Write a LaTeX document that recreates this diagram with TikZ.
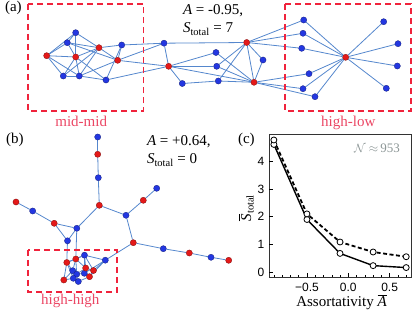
\documentclass[tikz,border=0pt]{standalone}
\usepackage{amsmath}
\usepackage{fontspec}
\setmainfont{Liberation Serif}
\newfontfamily\ticksans{Liberation Sans}
\usepackage{tikz}
\usetikzlibrary{backgrounds}
\definecolor{netblue}{RGB}{35,55,225}
\definecolor{netred}{RGB}{228,25,25}
\definecolor{linkblue}{RGB}{85,135,205}
\definecolor{boxred}{RGB}{240,35,60}
\definecolor{labelred}{RGB}{235,70,100}
\definecolor{notegray}{RGB}{140,150,150}

\begin{document}
\begin{tikzpicture}[x=1pt,y=-1pt,
  font=\fontsize{15}{17}\selectfont,
  bnode/.style={circle,fill=netblue,draw=netblue!55!black,line width=0.3pt,inner sep=0pt,minimum size=6.2pt},
  rnode/.style={bnode,fill=netred,draw=netred!55!black},
  link/.style={linkblue,line width=0.8pt},
  hubbox/.style={draw=boxred,line width=1.8pt,dash pattern=on 6pt off 4pt},
  boxlabel/.style={text=labelred,anchor=base},
  ticklabel/.style={font=\ticksans\fontsize{12}{14}\selectfont},
  datamark/.style={circle,draw=black,fill=white,line width=0.8pt,inner sep=0pt,minimum size=6pt}
]
\useasboundingbox (0,0) rectangle (415,312);

% (a)
\foreach \n/\px/\py/\s in {1/46.7/55.7/rnode, 2/75.7/32.7/bnode, 3/67.3/42.7/bnode, 4/75.7/57/rnode,
    5/99/47.7/rnode, 6/121.7/45/bnode, 7/117.7/60.3/rnode, 8/63.3/76/bnode, 9/79.3/76/bnode,
    10/106/80/bnode, 11/164/43.2/bnode, 12/168.6/66.3/rnode, 13/182.3/83.5/bnode, 14/216/52.5/bnode,
    15/216.7/66.3/bnode, 16/218.3/81/bnode, 17/246.7/42.5/rnode, 18/263/60/bnode, 19/254/82.3/rnode,
    20/303.7/20/bnode, 21/303/33.3/bnode, 22/301.7/48.3/bnode, 23/345.7/57.3/rnode, 24/383.7/21.7/bnode,
    25/398/43.7/bnode, 26/397.3/66/bnode, 27/386.3/88.3/bnode, 28/309/73.7/bnode, 29/303/88.7/bnode,
    30/315/96.7/bnode}
  \node[\s] (a\n) at (\px,\py) {};
\begin{scope}[on background layer]
\foreach \u/\v in {a1/a2, a1/a3, a1/a4, a1/a8, a1/a9, a2/a3, a2/a4, a2/a5, a3/a4, a3/a5, a3/a7,
    a4/a5, a4/a8, a4/a9, a4/a10, a5/a6, a5/a7, a5/a8, a5/a9, a6/a7, a6/a10, a6/a11, a7/a9, a7/a11,
    a7/a12, a8/a9, a9/a10, a10/a12, a11/a12, a11/a17, a12/a13, a12/a14, a12/a15, a12/a19, a13/a16,
    a14/a19, a15/a17, a15/a19, a16/a17, a16/a19, a17/a18, a17/a19, a18/a19, a17/a20, a17/a21,
    a17/a22, a19/a28, a19/a29, a19/a30, a23/a20, a23/a21, a23/a22, a23/a24, a23/a25, a23/a26,
    a23/a27, a23/a28, a23/a29, a23/a30}
  \draw[link] (\u) -- (\v);
\end{scope}
\draw[hubbox] (28,4) rectangle (143.5,111);
\draw[hubbox] (285,4) rectangle (411,111);
\node[anchor=base west] (alab) at (1.5,11.5) {(a)};
\node[anchor=base west] (aA) at (179.5,15) {\textit{A} = -0.95,};
\node[anchor=base west] (aS) at (179.5,33) {\textit{S}\textsubscript{total} = 7};
\node[boxlabel] (midmid) at (81.2,127) {mid-mid};
\node[boxlabel] (highlow) at (348.3,127) {high-low};

% (b)
\foreach \n/\px/\py/\s in {1/97.7/137/bnode, 2/97.7/154.3/rnode, 3/98.3/177.7/bnode, 4/99.3/205.3/rnode,
    5/156.7/188.3/bnode, 6/143.3/200.3/rnode, 7/126/215.3/bnode, 8/133.3/242.7/rnode, 9/163.3/248.7/bnode,
    10/189.3/253/rnode, 11/211/257.3/bnode, 12/228.7/260.3/rnode, 13/16/202/rnode, 14/32.7/211/bnode,
    15/54.2/223.3/rnode, 16/76.8/228.3/bnode, 17/67.5/240.8/bnode, 18/105.3/260.2/bnode,
    19/84.5/255.2/bnode, 20/66.8/262.5/rnode, 21/75.8/259/rnode, 22/93.5/270.5/rnode,
    23/89.5/276.7/rnode, 24/72.7/270.7/bnode, 25/76.7/274.2/bnode, 26/84.3/273.3/bnode,
    27/63.8/280/rnode, 28/78.3/281.5/bnode, 29/73.3/278.3/bnode, 30/85.7/268/rnode}
  \node[\s] (b\n) at (\px,\py) {};
\begin{scope}[on background layer]
\foreach \u/\v in {b1/b2, b2/b3, b3/b4, b4/b7, b4/b16, b5/b6, b6/b7, b7/b8, b8/b9, b9/b10,
    b10/b11, b11/b12, b8/b18, b13/b14, b14/b15, b15/b16, b15/b17, b16/b17, b16/b21, b17/b20,
    b19/b20, b19/b21, b20/b21, b19/b18, b18/b22, b18/b23, b18/b26, b19/b30, b19/b22, b21/b24,
    b20/b24, b20/b27, b21/b30, b24/b25, b25/b26, b26/b23, b22/b23, b30/b22, b27/b29, b29/b28,
    b28/b23, b25/b28, b24/b29, b30/b26, b27/b24, b21/b25, b19/b26, b30/b25, b20/b29}
  \draw[link] (\u) -- (\v);
\end{scope}
\draw[hubbox] (28,250) rectangle (117,292);
\node[anchor=base west] (blab) at (2.5,144) {(b)};
\node[anchor=base west] (bA) at (143.5,145.7) {\textit{A} = +0.64,};
\node[anchor=base west] (bS) at (143.5,164) {\textit{S}\textsubscript{total} = 0};
\node[boxlabel] (highhigh) at (70.3,305) {high-high};

% (c)
\node[anchor=base west] (clab) at (234.5,144) {(c)};
\begin{scope}[shift={(348.3,272.3)},x=82.7pt,y=27.8pt]
\draw[line width=0.8pt,black!80] (-0.955,-0.18) rectangle (0.758,4.95);
\foreach \i in {-9,...,7}
  \draw[line width=0.5pt] (\i/10,-0.18) -- ++(0,2pt);
\foreach \t/\lab [count=\i] in {-0.5/−0.5, 0/0.0, 0.5/0.5} {
  \draw[line width=0.6pt] (\t,-0.18) -- ++(0,4pt);
  \node[ticklabel,anchor=north,yshift=-2pt] (xtick\i) at (\t,-0.18) {\lab};
}
\foreach \t in {0,...,4} {
  \draw[line width=0.6pt] (-0.955,\t) -- ++(4pt,0);
  \node[ticklabel,anchor=east,xshift=-1.5pt] (ytick\t) at (-0.955,\t) {\t};
}
\draw[line width=1.4pt] plot coordinates {(-0.9,4.6) (-0.5,1.9) (-0.1,0.68) (0.3,0.24) (0.7,0.17)};
\draw[line width=1.8pt,dash pattern=on 4pt off 2.5pt] plot coordinates {(-0.9,4.76) (-0.5,2.1) (-0.1,1.09) (0.3,0.73) (0.7,0.56)};
\foreach \px/\py [count=\i] in {-0.9/4.6, -0.5/1.9, -0.1/0.68, 0.3/0.24, 0.7/0.17,
    -0.9/4.76, -0.5/2.1, -0.1/1.09, 0.3/0.73, 0.7/0.56}
  \node[datamark] (mark\i) at (\px,\py) {};
\end{scope}
\node[anchor=base east,text=notegray,font=\fontsize{13}{15}\selectfont] (nnote) at (403.5,153) {$\mathcal{N}\approx$\,953};
\node[rotate=90] (ylab) at (246,208) {$\overline{\textit{S}}_{\text{total}}$};
\node[anchor=base] (xlab) at (341.5,307) {Assortativity $\overline{\textit{A}}$};
\end{tikzpicture}
\end{document}
